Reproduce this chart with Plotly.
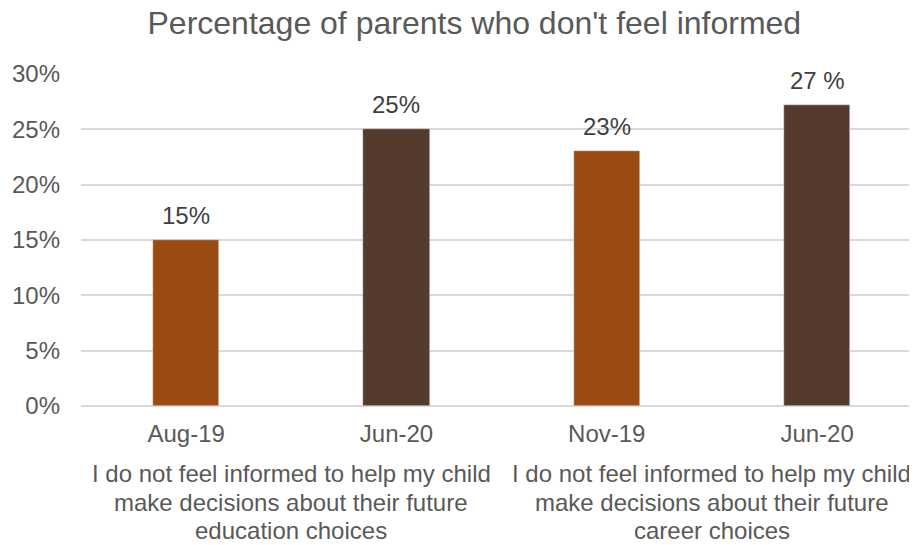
import plotly.graph_objects as go

categories = ["Aug-19", "Jun-20", "Nov-19", "Jun-20"]
values = [15, 25, 23, 27.2]
value_labels = ["15%", "25%", "23%", "27 %"]
bar_colors = ["#9A4B12", "#553A2E", "#9A4B12", "#553A2E"]
group_labels = [
    "I do not feel informed to help my child<br>make decisions about their future<br>education choices",
    "I do not feel informed to help my child<br>make decisions about their future<br>career choices",
]
group_centers = [0.5, 2.5]
y_ticks = [0, 5, 10, 15, 20, 25, 30]

xpos = list(range(len(categories)))
FONT = "Liberation Sans, Arial, sans-serif"

fig = go.Figure()
fig.add_trace(go.Bar(
    x=xpos, y=values, marker_color=bar_colors, width=0.315,
    hoverinfo="skip", showlegend=False,
))

annotations = []
for xi, v, lab in zip(xpos, values, value_labels):
    annotations.append(dict(
        x=xi, y=v, xref="x", yref="y", text=lab, showarrow=False,
        yanchor="bottom", yshift=9,
        font=dict(family=FONT, size=24, color="#404040"),
    ))
LINE_GAP = 28.5
for gc, gl in zip(group_centers, group_labels):
    for i, line in enumerate(gl.split("<br>")):
        annotations.append(dict(
            x=gc, y=-0.157, xref="x", yref="paper", text=line, showarrow=False,
            yanchor="top", align="center", yshift=-i * LINE_GAP,
            font=dict(family=FONT, size=24, color="#595959"),
        ))

fig.update_layout(
    width=909, height=537,
    margin=dict(l=73, r=0, t=66, b=139),
    plot_bgcolor="white", paper_bgcolor="white",
    title=dict(text="Percentage of parents who don't feel informed",
               x=0.513, xanchor="center", y=0.972, yanchor="middle",
               font=dict(family=FONT, size=32, color="#595959")),
    xaxis=dict(tickvals=xpos, ticktext=categories, range=[-0.5, 3.475],
               showgrid=False, zeroline=False, showline=False, automargin=False,
               ticks="", ticklabelstandoff=11,
               tickfont=dict(family=FONT, size=24, color="#595959")),
    yaxis=dict(range=[0, 30], tickvals=y_ticks,
               ticktext=[f"{t}%" for t in y_ticks], automargin=False,
               showgrid=True, gridcolor="#D9D9D9", gridwidth=1.5,
               zeroline=True, zerolinecolor="#D9D9D9", zerolinewidth=1.5,
               ticks="", ticklabelstandoff=20,
               tickfont=dict(family=FONT, size=24, color="#595959")),
    annotations=annotations,
    bargap=0,
)

fig.write_html("out.html")
